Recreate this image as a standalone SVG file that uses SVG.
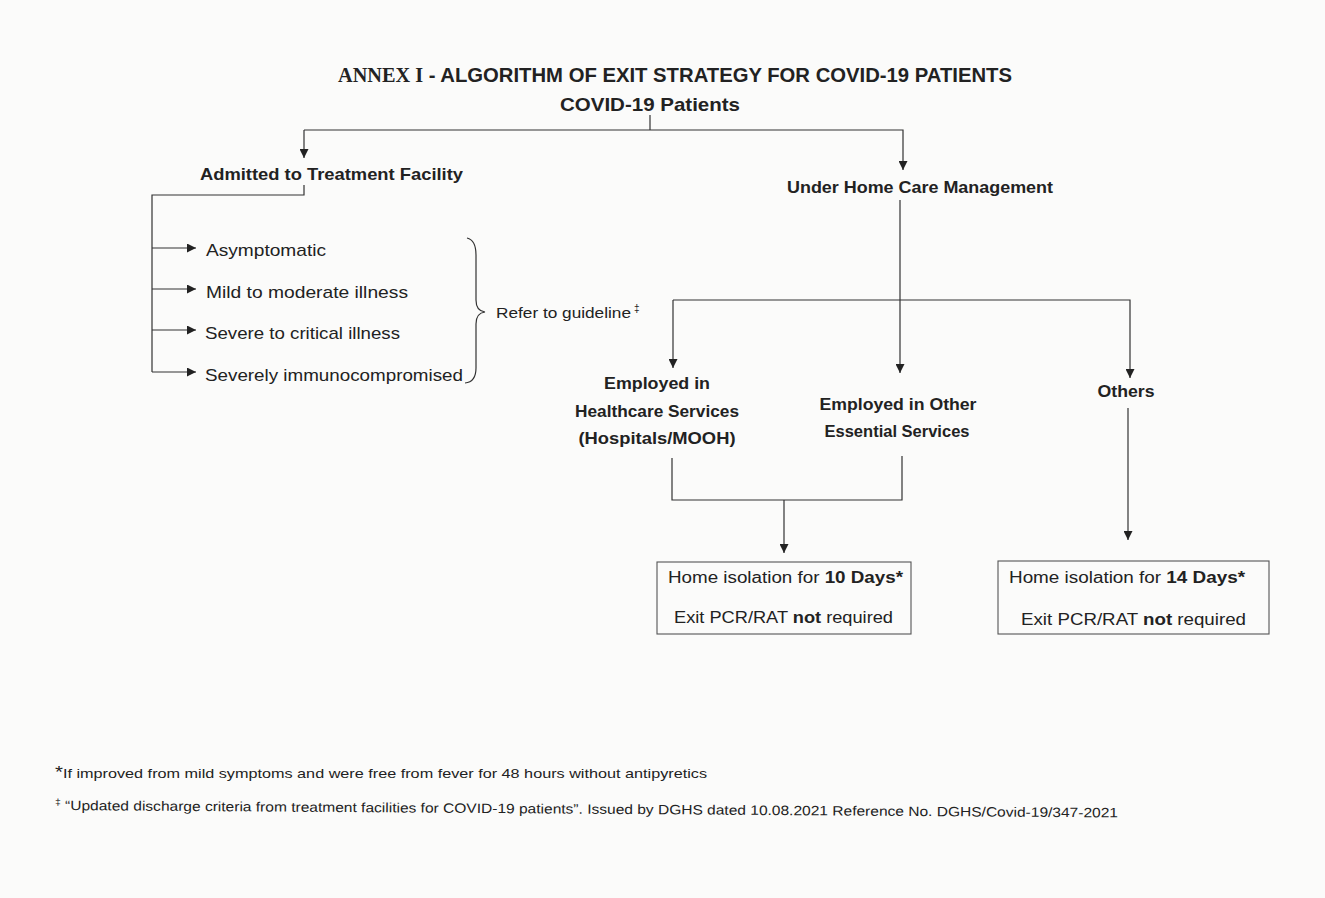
<svg xmlns="http://www.w3.org/2000/svg" width="1325" height="898" viewBox="0 0 1325 898">
<defs>
<marker id="ah" viewBox="0 0 10 10" refX="10" refY="5" markerWidth="9" markerHeight="9" markerUnits="userSpaceOnUse" orient="auto"><path d="M0,0 L10,5 L0,10 z" fill="#222"/></marker>
<style>
.t{font-family:"Liberation Sans",Arial,sans-serif;fill:#222}
.b{font-weight:bold}
.ln{stroke:#333;stroke-width:1.2;fill:none}
.ar{stroke:#333;stroke-width:1.2;fill:none;marker-end:url(#ah)}
.box{fill:none;stroke:#555;stroke-width:1.1}
</style>
</defs>
<rect width="1325" height="898" fill="#fbfbfa"/>
<g id="title">
<text x="338" y="82" class="t b" font-size="21" textLength="674" lengthAdjust="spacingAndGlyphs"><tspan font-family="Liberation Serif,serif">ANNEX I</tspan> - ALGORITHM OF EXIT STRATEGY FOR COVID-19 PATIENTS</text>
</g>
<g id="connectors">
<path class="ln" d="M650,115 V130"/>
<path class="ar" d="M304,130 H903 V170"/>
<path class="ar" d="M304,130 V158"/>
<path class="ln" d="M304,185 V195 H152 V372"/>
<path class="ar" d="M152,248 H196"/>
<path class="ar" d="M152,289 H196"/>
<path class="ar" d="M152,330 H196"/>
<path class="ar" d="M152,372 H196"/>
<path class="ar" d="M900,200 V373"/>
<path class="ar" d="M673,300 V368"/>
<path class="ar" d="M673,300 H1130 V378"/>
<path class="ln" d="M672,458 V500 H902 V456"/>
<path class="ar" d="M784,500 V553"/>
<path class="ar" d="M1128,408 V540"/>
<path class="ln" d="M467,238 Q476,240 476,255 V300 Q476,311 485,312 Q476,313 476,324 V368 Q476,382 465,383"/>
</g>
<g id="covid"><text x="650" y="111" class="t b" font-size="19" text-anchor="middle" textLength="180" lengthAdjust="spacingAndGlyphs">COVID-19 Patients</text></g>
<g id="admitted"><text x="200" y="180" class="t b" font-size="17" textLength="263" lengthAdjust="spacingAndGlyphs">Admitted to Treatment Facility</text></g>
<g id="homecare"><text x="787" y="193" class="t b" font-size="17" textLength="266" lengthAdjust="spacingAndGlyphs">Under Home Care Management</text></g>
<g id="asym"><text x="206" y="256" class="t" font-size="17" textLength="120" lengthAdjust="spacingAndGlyphs">Asymptomatic</text></g>
<g id="mild"><text x="206" y="298" class="t" font-size="17" textLength="202" lengthAdjust="spacingAndGlyphs">Mild to moderate illness</text></g>
<g id="severe"><text x="205" y="339" class="t" font-size="17" textLength="195" lengthAdjust="spacingAndGlyphs">Severe to critical illness</text></g>
<g id="immuno"><text x="205" y="381" class="t" font-size="17" textLength="258" lengthAdjust="spacingAndGlyphs">Severely immunocompromised</text></g>
<g id="refer"><text x="496" y="318" class="t" font-size="15" textLength="135" lengthAdjust="spacingAndGlyphs">Refer to guideline</text><text x="634" y="312" class="t" font-size="10">‡</text></g>
<g id="healthcare" class="t b" font-size="17" text-anchor="middle">
<text x="657" y="389" textLength="106" lengthAdjust="spacingAndGlyphs">Employed in</text>
<text x="657" y="417" textLength="164" lengthAdjust="spacingAndGlyphs">Healthcare Services</text>
<text x="657" y="444" textLength="157" lengthAdjust="spacingAndGlyphs">(Hospitals/MOOH)</text>
</g>
<g id="essential" class="t b" font-size="17" text-anchor="middle">
<text x="898" y="410" textLength="157" lengthAdjust="spacingAndGlyphs">Employed in Other</text>
<text x="897" y="437" textLength="145" lengthAdjust="spacingAndGlyphs">Essential Services</text>
</g>
<g id="others"><text x="1126" y="397" class="t b" font-size="17" text-anchor="middle" textLength="57" lengthAdjust="spacingAndGlyphs">Others</text></g>
<g id="box10">
<rect class="box" x="657" y="562" width="254" height="72"/>
<text x="668" y="583" class="t" font-size="16" textLength="235" lengthAdjust="spacingAndGlyphs">Home isolation for <tspan class="b">10 Days*</tspan></text>
<text x="674" y="623" class="t" font-size="16" textLength="219" lengthAdjust="spacingAndGlyphs">Exit PCR/RAT  <tspan class="b">not</tspan> required</text>
</g>
<g id="box14">
<rect class="box" x="998" y="561" width="271" height="73"/>
<text x="1009" y="583" class="t" font-size="16" textLength="236" lengthAdjust="spacingAndGlyphs">Home isolation for <tspan class="b">14 Days*</tspan></text>
<text x="1021" y="625" class="t" font-size="16" textLength="225" lengthAdjust="spacingAndGlyphs">Exit PCR/RAT  <tspan class="b">not</tspan> required</text>
</g>
<g id="footnotes">
<text x="55" y="778" class="t" font-size="13.5" textLength="652" lengthAdjust="spacingAndGlyphs"><tspan font-size="17">*</tspan>If improved from mild symptoms and were free from fever for 48 hours without antipyretics</text>
<text x="55" y="810" class="t" font-size="13.5" textLength="1063" lengthAdjust="spacingAndGlyphs" transform="rotate(0.4 55 810)"><tspan font-size="9" dy="-5">‡</tspan><tspan dy="5"> “Updated discharge criteria from treatment facilities for COVID-19 patients”. Issued by DGHS dated 10.08.2021 Reference No. DGHS/Covid-19/347-2021</tspan></text>
</g>
</svg>
